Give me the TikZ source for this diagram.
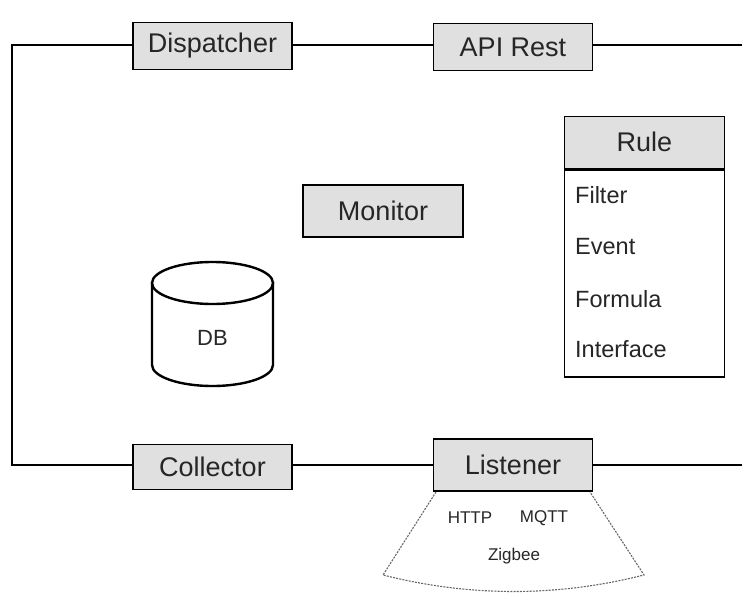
\documentclass[tikz,border=0pt]{standalone}
\usepackage{fontspec}
\setmainfont{Liberation Sans}
\definecolor{boxfill}{HTML}{E0E0E0}
\definecolor{ink}{HTML}{262626}
\tikzset{
  comp/.style={draw=black, line width=1.6pt, fill=boxfill, minimum width=159pt,
    minimum height=47pt, inner sep=0pt, text=ink, font=\fontsize{27}{31}\selectfont},
  wire/.style={draw=black, line width=1.6pt},
  item/.style={anchor=west, inner sep=0pt, text=ink, font=\fontsize{23.5}{27}\selectfont},
  proto/.style={inner sep=0pt, text=ink, font=\fontsize{17}{20}\selectfont},
  fan/.style={draw=gray!80!black, line width=1.1pt, dash pattern=on 2pt off 1.2pt},
  drum/.style={draw=black, line width=2.4pt, fill=white}
}
\begin{document}
\begin{tikzpicture}[x=1pt, y=-1pt]
\useasboundingbox (0,0) rectangle (742,594);

% top bus
\node[comp] (disp) at (212.5,46) {Dispatcher};
\node[comp] (api) at (513,47) {API Rest};
\coordinate (tl) at (12,45);
\coordinate (tr) at (742,45);

% bottom bus
\node[comp, minimum height=45pt] (coll) at (212.5,467) {Collector};
\node[comp, minimum height=52pt] (list) at (513,465) {Listener};
\coordinate (bl) at (12,465);
\coordinate (br) at (742,465);

\draw[wire] (disp.west |- tl) -- (tl) -- (bl) -- (coll.west |- bl);
\draw[wire] (disp.east |- tl) -- (api.west |- tl);
\draw[wire] (api.east |- tl) -- (tr);
\draw[wire] (coll.east |- bl) -- (list.west |- bl);
\draw[wire] (list.east |- bl) -- (br);

% monitor
\node[comp, minimum width=160pt, minimum height=52pt] (mon) at (383,211) {Monitor};

% rule class box
\node[comp, minimum width=160pt, minimum height=52pt, anchor=north west] (rule) at (563.5,115.5) {Rule};
\node[draw=black, line width=1.6pt, fill=white, minimum width=160pt, minimum height=207pt,
  inner sep=0pt, anchor=north west] (rulebody) at (rule.south west) {};
\node[item] (f1) at (575,195) {Filter};
\node[item] (f2) at (575,247) {Event};
\node[item] (f3) at (575,299) {Formula};
\node[item] (f4) at (575,349) {Interface};

% database cylinder: side walls with rounded base, then the full lid
\draw[drum] (152,283) -- (152,365)
  .. controls (152,376.6) and (179.1,386) .. (212.5,386)
  .. controls (245.9,386) and (273,376.6) .. (273,365)
  -- (273,283) -- cycle;
\draw[drum] (152,283)
  .. controls (152,271.4) and (179.1,262) .. (212.5,262)
  .. controls (245.9,262) and (273,271.4) .. (273,283)
  .. controls (273,294.6) and (245.9,304) .. (212.5,304)
  .. controls (179.1,304) and (152,294.6) .. (152,283) -- cycle;
\node[text=ink, font=\fontsize{22}{26}\selectfont] (db) at (212.5,338) {DB};

% protocols fan below the listener
\coordinate (fa) at (436,492);
\coordinate (fb) at (383,575);
\coordinate (fc) at (644,575);
\coordinate (fd) at (590,492);
\draw[fan] (fa) -- (fb) .. controls (470,597) and (557,597) .. (fc) -- (fd);
\node[proto] (http) at (470,518) {HTTP};
\node[proto] (mqtt) at (544,518) {MQTT};
\node[proto] (zig) at (514,556) {Zigbee};
\end{tikzpicture}
\end{document}
